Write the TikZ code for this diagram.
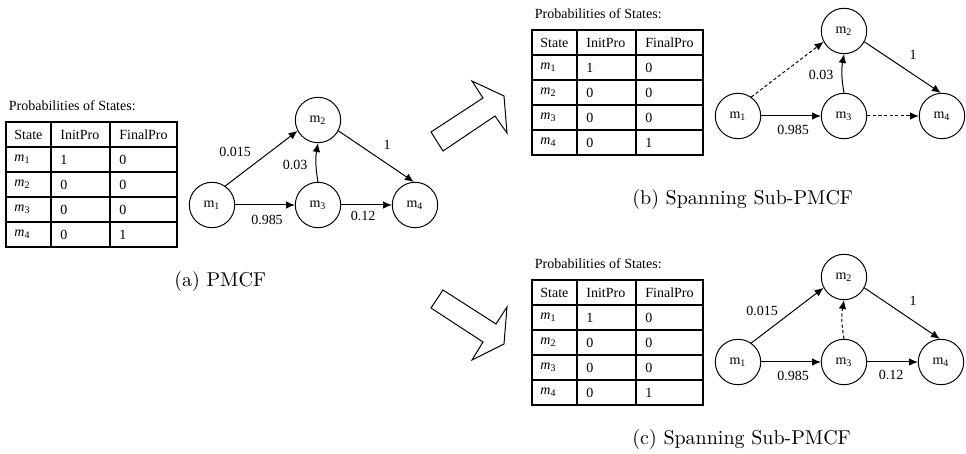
\documentclass[tikz,border=0pt]{standalone}
\usepackage{fontspec}
\newfontfamily\timesfont{Liberation Serif}
\usetikzlibrary{arrows.meta}

\tikzset{
  small/.style={font=\timesfont\fontsize{7}{8}\selectfont},
  state/.style={small, circle, draw, line width=0.5pt, minimum size=22.7pt, inner sep=0pt},
  trans/.style={line width=0.5pt, -{Latex[length=4.4pt,width=3.8pt]}},
  skipped/.style={trans, dash pattern=on 1.6pt off 1.2pt},
  prob/.style={small, inner sep=0pt},
  tabrule/.style={line width=0.75pt},
  cell/.style={small, anchor=west, inner sep=0pt},
  tabtitle/.style={small, anchor=west, inner sep=0pt},
  caption/.style={font=\fontsize{10}{12}\selectfont, anchor=west, inner sep=0pt},
  hollow/.style={draw, line width=0.5pt, line join=miter}
}

% table of initial and final state probabilities; #1 name prefix, (#2,#3) top-left corner
\newcommand\probtable[3]{%
  \begin{scope}[shift={(#2,#3)}]
    \node[tabtitle] (#1title) at (2.5,-16) {Probabilities of States:};
    \draw[tabrule] (0,0) rectangle (171,125);
    \foreach \yy in {25,50,75,100} \draw[tabrule] (0,\yy) -- (171,\yy);
    \foreach \xx in {45,104} \draw[tabrule] (\xx,0) -- (\xx,125);
    \node[cell] (#1hs) at (8,12.5) {State};
    \node[cell] (#1hi) at (54,12.5) {InitPro};
    \node[cell] (#1hf) at (113,12.5) {FinalPro};
    \foreach \k/\ini/\fin in {1/1/0,2/0/0,3/0/0,4/0/1}{
      \node[cell] (#1s\k) at (8,12.5+25*\k) {\textit{m}\textsubscript{\k}};
      \node[cell] (#1i\k) at (54,12.5+25*\k) {\ini};
      \node[cell] (#1f\k) at (113,12.5+25*\k) {\fin};
    }
  \end{scope}}

\begin{document}
\begin{tikzpicture}[x=0.5pt, y=-0.5pt]
  \useasboundingbox (0,0) rectangle (966,454);

  % ---------- (a) the full PMCF ----------
  \probtable{ta}{6}{122}{}
  \begin{scope}[shift={(212,205)}]
    \node[state] (a1) at (0,0) {m\textsubscript{1}};
    \node[state] (a2) at (106,-85) {m\textsubscript{2}};
    \node[state] (a3) at (106,0) {m\textsubscript{3}};
    \node[state] (a4) at (203,0) {m\textsubscript{4}};
    \draw[trans] (a1.55) -- (a2.208);
    \draw[trans] (a3.north) to[bend left=10] (a2.south);
    \draw[trans] (a2.-28) -- (a4.93);
    \draw[trans] (a1) -- (a3);
    \draw[trans] (a3) -- (a4);
    \node[prob] (a12) at (23,-53) {0.015};
    \node[prob] (a32) at (83,-40) {0.03};
    \node[prob] (a24) at (175,-60) {1};
    \node[prob] (a13) at (55,15) {0.985};
    \node[prob] (a34) at (151,11) {0.12};
  \end{scope}
  \node[caption] (capa) at (174,282) {(a) PMCF};

  % ---------- block arrows ----------
  \draw[hollow] (431,132) -- (483,98) -- (472,81) -- (504,96) -- (507,133)
                -- (495,116) -- (443,151) -- cycle;
  \draw[hollow] (443,290) -- (496,324) -- (507,307) -- (504,344) -- (472,360)
                -- (483,342) -- (431,308) -- cycle;

  % ---------- (b) spanning sub-PMCF ----------
  \probtable{tb}{532}{30}{}
  \begin{scope}[shift={(738,116)}]
    \node[state] (b1) at (0,0) {m\textsubscript{1}};
    \node[state] (b2) at (106,-85) {m\textsubscript{2}};
    \node[state] (b3) at (106,0) {m\textsubscript{3}};
    \node[state] (b4) at (204,0) {m\textsubscript{4}};
    \draw[skipped] (b1.55) -- (b2.208);
    \draw[trans] (b3.north) to[bend left=10] (b2.south);
    \draw[trans] (b2.-28) -- (b4.93);
    \draw[trans] (b1) -- (b3);
    \draw[skipped] (b3) -- (b4);
    \node[prob] (b32) at (83,-41) {0.03};
    \node[prob] (b24) at (175,-61) {1};
    \node[prob] (b13) at (55,14) {0.985};
  \end{scope}
  \node[caption] (capb) at (632,200) {(b) Spanning Sub-PMCF};

  % ---------- (c) spanning sub-PMCF ----------
  \probtable{tc}{532}{280}{}
  \begin{scope}[shift={(738,362)}]
    \node[state] (c1) at (0,0) {m\textsubscript{1}};
    \node[state] (c2) at (106,-85) {m\textsubscript{2}};
    \node[state] (c3) at (106,0) {m\textsubscript{3}};
    \node[state] (c4) at (203,0) {m\textsubscript{4}};
    \draw[trans] (c1.55) -- (c2.208);
    \draw[skipped] (c3.north) to[bend left=10] (c2.south);
    \draw[trans] (c2.-28) -- (c4.93);
    \draw[trans] (c1) -- (c3);
    \draw[trans] (c3) -- (c4);
    \node[prob] (c12) at (24,-51) {0.015};
    \node[prob] (c24) at (175,-61) {1};
    \node[prob] (c13) at (55,14) {0.985};
    \node[prob] (c34) at (153,13) {0.12};
  \end{scope}
  \node[caption] (capc) at (632,440) {(c) Spanning Sub-PMCF};
\end{tikzpicture}
\end{document}
